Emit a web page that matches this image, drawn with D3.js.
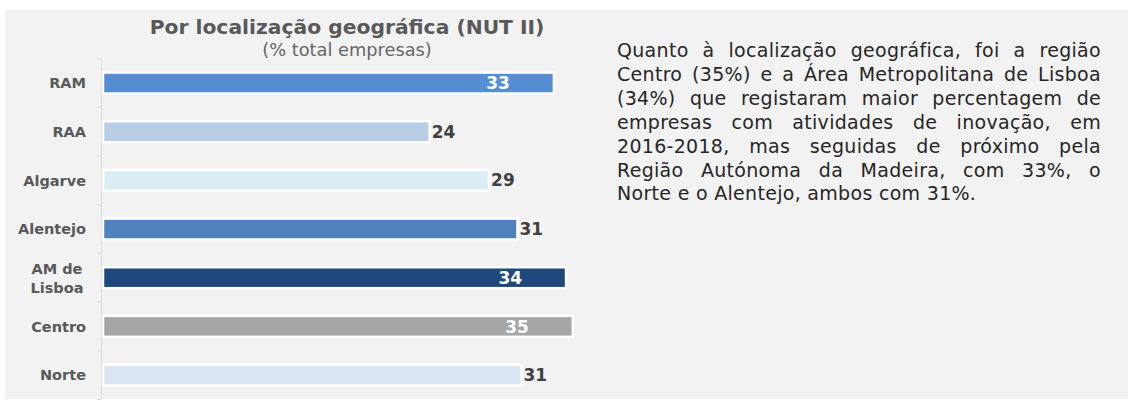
<!doctype html>
<html lang="pt">
<head>
<meta charset="UTF-8">
<title>Por localização geográfica (NUT II)</title>
<script src="https://cdn.jsdelivr.net/npm/d3@7"></script>
<style>
    body{
        margin:0;
        background:#fff;
        font-family:"DejaVu Sans", Verdana, sans-serif;
    }
    #wrap{
        position:relative;
        width:1128px;
        height:405px;
    }
    svg{
        position:absolute;
        left:0;
        top:0;
    }
    .note{
        position:absolute;
        left:617px;
        top:39px;
        width:484px;
        font-size:19px;
        letter-spacing:0.3px;
        line-height:23.9px;
        color:#262626;
    }
    .note div{
        text-align:justify;
        text-align-last:justify;
    }
    .note div:last-child{
        text-align-last:left;
    }
</style>
</head>
<body>
<div id="wrap">
    <svg width="1128" height="405"></svg>
    <div class="note"></div>
</div>
<script>
    // data (bar lengths; labels are the rounded values)
    const regions = ["RAM", "RAA", "Algarve", "Alentejo", "AM de Lisboa", "Centro", "Norte"];
    const shares = [33.4, 24.2, 28.6, 30.7, 34.3, 34.8, 31.0];
    const barColors = ["#558ed5", "#b9cde5", "#dbeef4", "#4f81bd", "#1f497d", "#a6a6a6", "#dce6f2"];
    const insideLabel = [true, false, false, false, true, true, false];

    const title = "Por localização geográfica (NUT II)";
    const subtitle = "(% total empresas)";
    const noteLines = [
        "Quanto à localização geográfica, foi a região",
        "Centro (35%) e a Área Metropolitana de Lisboa",
        "(34%) que registaram maior percentagem de",
        "empresas com atividades de inovação, em",
        "2016-2018, mas seguidas de próximo pela",
        "Região Autónoma da Madeira, com 33%, o",
        "Norte e o Alentejo, ambos com 31%."
    ];

    const svg = d3.select("svg");

    // grey panel
    svg.append("rect")
        .attr("x", 5).attr("y", 10)
        .attr("width", 1123).attr("height", 389)
        .attr("fill", "#f2f2f2");

    // scales
    const x = d3.scaleLinear().domain([0, 35]).range([103, 575.5]);
    const y = d3.scaleBand().domain(regions)
        .range([58.7, 399.4])
        .paddingInner(0.57).paddingOuter(0.285);

    // titles
    svg.append("text")
        .attr("x", 347).attr("y", 34)
        .attr("text-anchor", "middle")
        .attr("font-weight", "bold")
        .attr("font-size", "20.3px")
        .attr("fill", "#595959")
        .text(title);
    svg.append("text")
        .attr("x", 347).attr("y", 56)
        .attr("text-anchor", "middle")
        .attr("font-size", "17.8px")
        .attr("fill", "#666")
        .text(subtitle);

    // axis line with ticks between the categories
    const axis = svg.append("g").attr("stroke", "#d9d9d9").attr("stroke-width", 1);
    axis.append("line")
        .attr("x1", 101.5).attr("x2", 101.5)
        .attr("y1", y.range()[0] + 3).attr("y2", y.range()[1] - 2);
    axis.selectAll(".tk")
        .data(d3.range(regions.length + 1))
        .enter().append("line")
        .attr("class", "tk")
        .attr("x1", 97).attr("x2", 101.5)
        .attr("y1", i => y.range()[0] + i * y.step())
        .attr("y2", i => y.range()[0] + i * y.step());

    // bars
    svg.selectAll(".bar")
        .data(regions)
        .enter().append("rect")
        .attr("class", "bar")
        .attr("x", x(0))
        .attr("y", d => y(d))
        .attr("width", (d, i) => x(shares[i]) - x(0))
        .attr("height", y.bandwidth())
        .attr("fill", (d, i) => barColors[i])
        .attr("stroke", "#fff")
        .attr("stroke-width", 2.5);

    // value labels
    svg.selectAll(".val")
        .data(regions)
        .enter().append("text")
        .attr("class", "val")
        .attr("x", (d, i) => insideLabel[i] ? x(shares[i]) - 44 : x(shares[i]) + 2)
        .attr("y", d => y(d) + y.bandwidth() / 2)
        .attr("dy", "0.36em")
        .attr("text-anchor", (d, i) => insideLabel[i] ? "end" : "start")
        .attr("font-weight", "bold")
        .attr("font-size", "17px")
        .attr("fill", (d, i) => insideLabel[i] ? "#fff" : "#404040")
        .text((d, i) => Math.round(shares[i]));

    // category labels (two lines for AM de Lisboa)
    const cat = svg.selectAll(".cat")
        .data(regions)
        .enter().append("text")
        .attr("class", "cat")
        .attr("font-weight", "bold")
        .attr("font-size", "14.5px")
        .attr("fill", "#595959");
    cat.each(function (d) {
        const t = d3.select(this);
        const cy = y(d) + y.bandwidth() / 2;
        if (d === "AM de Lisboa") {
            t.attr("text-anchor", "middle").attr("x", 57);
            t.append("tspan").attr("x", 57).attr("y", cy - 4).text("AM de");
            t.append("tspan").attr("x", 57).attr("y", cy + 15).text("Lisboa");
        } else {
            t.attr("text-anchor", "end").attr("x", 86)
                .attr("y", cy).attr("dy", "0.36em").text(d);
        }
    });

    // side note
    d3.select(".note").selectAll("div")
        .data(noteLines)
        .enter().append("div")
        .text(d => d);
</script>
</body>
</html>
